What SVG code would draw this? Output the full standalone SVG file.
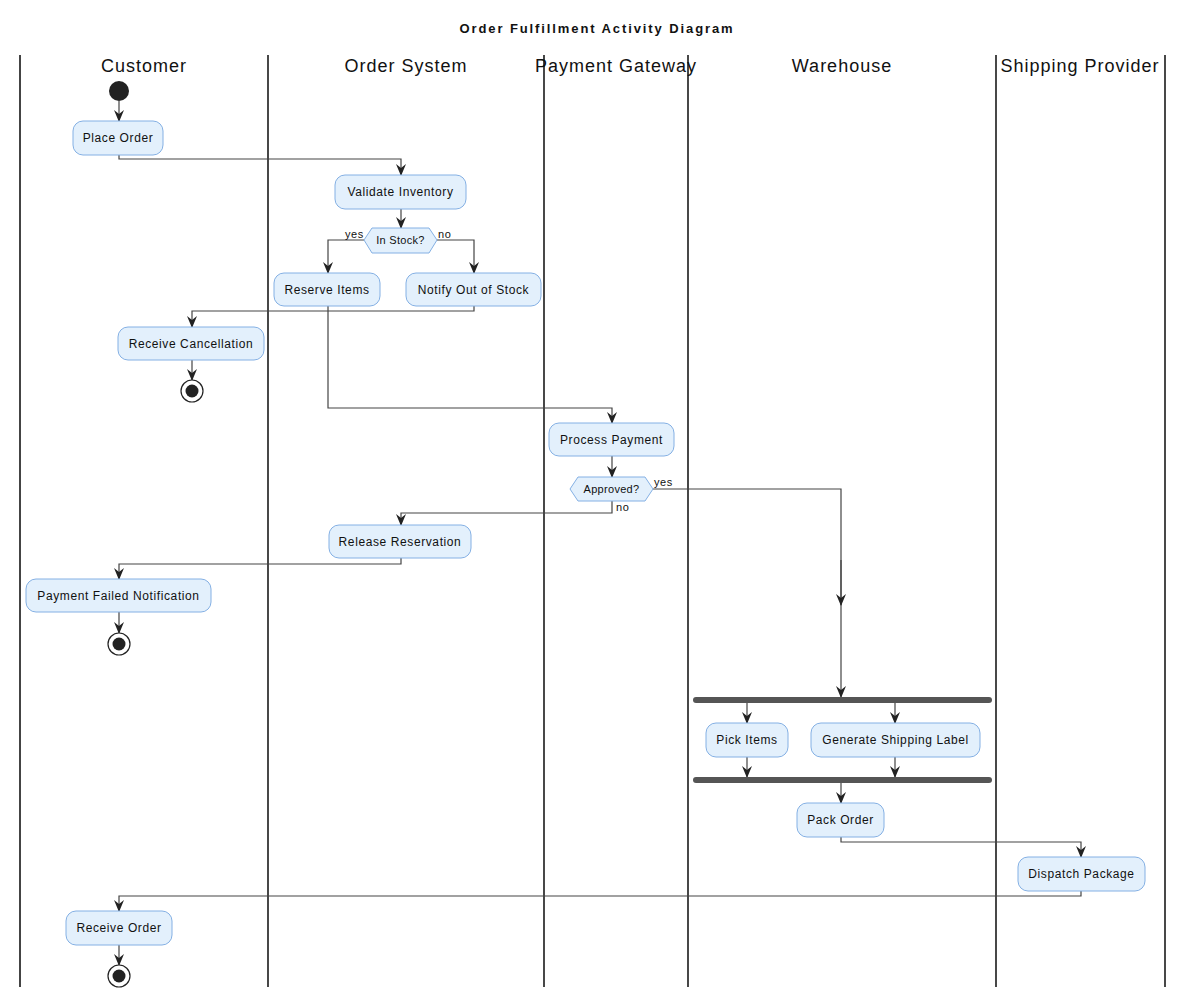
<svg xmlns="http://www.w3.org/2000/svg" width="1193" height="1008" viewBox="0 0 1193 1008">
<style>
text{font-family:"Liberation Sans",Arial,sans-serif;fill:#111}
.title{font-size:13px;font-weight:bold;letter-spacing:1.9px}
.lane{font-size:18px;letter-spacing:1px}
.lbl{font-size:12px;letter-spacing:0.6px}
.elbl{font-size:11px;letter-spacing:0.6px}
.act{fill:#e3f0fc;stroke:#84b0e4;stroke-width:1}
.dec{fill:#e3f0fc;stroke:#84b0e4;stroke-width:1}
.sw{stroke:#1a1a1a;stroke-width:1.6}
.e{fill:none;stroke:#444;stroke-width:1.2;marker-end:url(#arr)}
.bar{fill:#555}
</style>
<defs>
<marker id="arr" viewBox="0 0 12 10" refX="11" refY="5" markerWidth="12" markerHeight="10" markerUnits="userSpaceOnUse" orient="auto">
<path d="M0,0 L12,5 L0,10 L4,5 z" fill="#222"/>
</marker>
</defs>
<rect width="1193" height="1008" fill="#fff"/>
<text class="title" x="597" y="33" text-anchor="middle">Order Fulfillment Activity Diagram</text>
<g id="lanes">
<line class="sw" x1="20" y1="55" x2="20" y2="987" style="stroke:#444;stroke-width:2"/>
<line class="sw" x1="268" y1="55" x2="268" y2="987"/>
<line class="sw" x1="544" y1="55" x2="544" y2="987"/>
<line class="sw" x1="688" y1="55" x2="688" y2="987"/>
<line class="sw" x1="996" y1="55" x2="996" y2="987"/>
<line class="sw" x1="1165" y1="55" x2="1165" y2="987"/>
<text class="lane" x="144" y="72" text-anchor="middle">Customer</text>
<text class="lane" x="406" y="72" text-anchor="middle">Order System</text>
<text class="lane" x="616" y="72" text-anchor="middle">Payment Gateway</text>
<text class="lane" x="842" y="72" text-anchor="middle">Warehouse</text>
<text class="lane" x="1080" y="72" text-anchor="middle">Shipping Provider</text>
</g>
<g id="connectors">
<path class="e" d="M119,101 V121"/>
<path class="e" d="M119,155 V159 H401 V175"/>
<path class="e" d="M401,209 V228"/>
<path class="e" d="M364,240 H328 V273"/>
<path class="e" d="M437,240 H474 V273"/>
<path class="e" d="M474,306 V311 H192 V327"/>
<path class="e" d="M192,360 V380"/>
<path class="e" d="M328,306 V408 H612 V423"/>
<path class="e" d="M612,456 V477"/>
<path class="e" d="M653,489 H841 V697"/>
<path class="e" d="M841,560 V605"/>
<path class="e" d="M612,501 V513 H401 V525"/>
<path class="e" d="M401,558 V564 H119 V579"/>
<path class="e" d="M119,612 V633"/>
<path class="e" d="M747,702 V723"/>
<path class="e" d="M895,702 V723"/>
<path class="e" d="M747,757 V777"/>
<path class="e" d="M895,757 V777"/>
<path class="e" d="M841,782 V803"/>
<path class="e" d="M841,837 V842 H1081 V857"/>
<path class="e" d="M1081,891 V896 H119 V911"/>
<path class="e" d="M119,945 V965"/>
<text class="elbl" x="345" y="238">yes</text>
<text class="elbl" x="438" y="238">no</text>
<text class="elbl" x="654" y="486">yes</text>
<text class="elbl" x="616" y="511">no</text>
</g>
<g id="start"><circle cx="119" cy="91" r="10" fill="#222"/></g>
<g id="place_order"><rect class="act" x="73" y="121" width="90" height="34" rx="10"/><text class="lbl" x="118" y="142" text-anchor="middle">Place Order</text></g>
<g id="validate_inventory"><rect class="act" x="335" y="175" width="131" height="34" rx="10"/><text class="lbl" x="400.5" y="196" text-anchor="middle">Validate Inventory</text></g>
<g id="in_stock"><polygon class="dec" points="364,240 372,228 429,228 437,240 429,253 372,253"/><text class="elbl" x="400.5" y="244" text-anchor="middle" style="letter-spacing:0.3px">In Stock?</text></g>
<g id="reserve_items"><rect class="act" x="274" y="273" width="106" height="33" rx="10"/><text class="lbl" x="327" y="294" text-anchor="middle">Reserve Items</text></g>
<g id="notify_out_of_stock"><rect class="act" x="406" y="273" width="135" height="33" rx="10"/><text class="lbl" x="473.5" y="294" text-anchor="middle">Notify Out of Stock</text></g>
<g id="receive_cancellation"><rect class="act" x="118" y="327" width="146" height="33" rx="10"/><text class="lbl" x="191" y="348" text-anchor="middle">Receive Cancellation</text></g>
<g id="end1"><circle cx="192" cy="391" r="11" fill="#fff" stroke="#222" stroke-width="1.2"/><circle cx="192" cy="391" r="6.5" fill="#222"/></g>
<g id="process_payment"><rect class="act" x="549" y="423" width="125" height="33" rx="10"/><text class="lbl" x="611.5" y="444" text-anchor="middle">Process Payment</text></g>
<g id="approved"><polygon class="dec" points="570,489 578,477 645,477 653,489 645,501 578,501"/><text class="elbl" x="611.5" y="493" text-anchor="middle" style="letter-spacing:0.3px">Approved?</text></g>
<g id="release_reservation"><rect class="act" x="329" y="525" width="142" height="33" rx="10"/><text class="lbl" x="400" y="546" text-anchor="middle">Release Reservation</text></g>
<g id="payment_failed"><rect class="act" x="26" y="579" width="185" height="33" rx="10"/><text class="lbl" x="118.5" y="600" text-anchor="middle">Payment Failed Notification</text></g>
<g id="end2"><circle cx="119" cy="644" r="11" fill="#fff" stroke="#222" stroke-width="1.2"/><circle cx="119" cy="644" r="6.5" fill="#222"/></g>
<g id="fork"><rect class="bar" x="693" y="697" width="299" height="6" rx="3"/></g>
<g id="pick_items"><rect class="act" x="706" y="723" width="82" height="34" rx="10"/><text class="lbl" x="747" y="744" text-anchor="middle">Pick Items</text></g>
<g id="generate_label"><rect class="act" x="811" y="723" width="169" height="34" rx="10"/><text class="lbl" x="895.5" y="744" text-anchor="middle">Generate Shipping Label</text></g>
<g id="join"><rect class="bar" x="693" y="777" width="299" height="6" rx="3"/></g>
<g id="pack_order"><rect class="act" x="797" y="803" width="87" height="34" rx="10"/><text class="lbl" x="840.5" y="824" text-anchor="middle">Pack Order</text></g>
<g id="dispatch_package"><rect class="act" x="1018" y="857" width="127" height="34" rx="10"/><text class="lbl" x="1081.5" y="878" text-anchor="middle">Dispatch Package</text></g>
<g id="receive_order"><rect class="act" x="66" y="911" width="106" height="34" rx="10"/><text class="lbl" x="119" y="932" text-anchor="middle">Receive Order</text></g>
<g id="end3"><circle cx="119" cy="976" r="11" fill="#fff" stroke="#222" stroke-width="1.2"/><circle cx="119" cy="976" r="6.5" fill="#222"/></g>
</svg>
